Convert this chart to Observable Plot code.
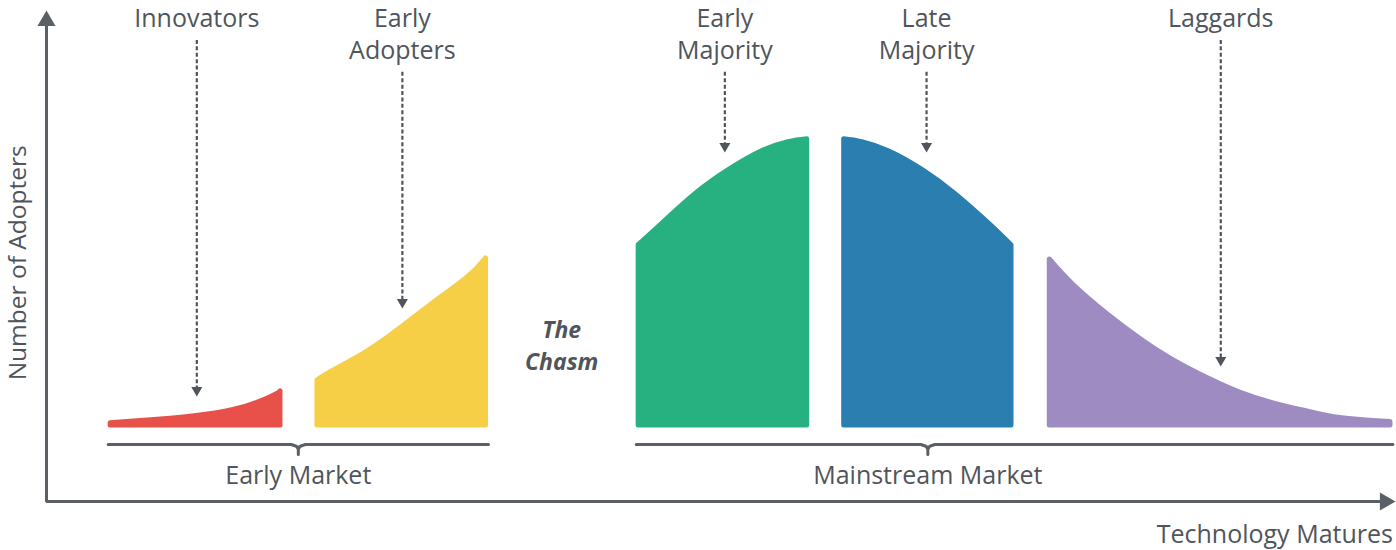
<!DOCTYPE html>
<html><head><meta charset="utf-8">
<script src="https://cdn.jsdelivr.net/npm/d3@7"></script>
<script src="https://cdn.jsdelivr.net/npm/@observablehq/plot@0.6"></script>
<style>
html,body{margin:0;padding:0;background:#fff;}
#chart{width:1396px;height:550px;overflow:hidden;}
svg{overflow:visible;}
</style></head><body><div id="chart"></div>
<script>
// Technology adoption life cycle: stages, colours, labels
const stages = ["Innovators", "Early Adopters", "Early Majority", "Late Majority", "Laggards"];
const stageLabels = ["Innovators", "Early\nAdopters", "Early\nMajority", "Late\nMajority", "Laggards"];
const stageColors = ["#e8504a", "#f7cf46", "#27b080", "#2a7fb0", "#9e8bc2"];

// Outline of each stage's part of the curve: maturity (x) vs number of adopters (y)
const innovatorsX     = [0.0, 2.0, 4.85, 7.2, 9.75, 11.85, 13.2, 13.6];
const innovatorsY     = [1.45, 1.8, 2.35, 3.0, 4.15, 5.85, 7.45, 7.95];
const earlyAdoptersX  = [16.1, 17.5, 20.2, 22.75, 25.3, 28.0, 29.6];
const earlyAdoptersY  = [10.2, 12.1, 16.1, 20.8, 25.9, 31.2, 35.0];
const earlyMajorityX  = [41.1, 43.1, 45.7, 48.3, 50.85, 52.95, 54.6];
const earlyMajorityY  = [37.7, 42.0, 48.1, 53.0, 56.8, 58.7, 59.3];
const lateMajorityX   = [57.1, 58.7, 60.8, 63.4, 65.95, 68.6, 70.5];
const lateMajorityY   = [59.3, 58.7, 56.8, 53.0, 48.1, 42.0, 37.7];
const laggardsX       = [73.1, 75.1, 77.8, 80.4, 82.9, 85.6, 88.1, 90.7, 93.4, 95.9, 98.5, 100.0];
const laggardsY       = [34.8, 29.7, 23.6, 18.5, 14.3, 10.6, 7.7, 5.5, 3.8, 2.5, 1.9, 1.7];

// Label pointers (dashed arrows) for each stage
const pointerX   = [6.9, 22.9, 48.0, 63.7, 86.6];
const pointerTop = [78.9, 72.4, 72.4, 72.4, 78.9];
const pointerTip = [6.4, 24.3, 56.1, 56.1, 12.5];
const labelTop = 86.3;

// Markets (brackets under the curve)
const markets      = ["Early Market", "Mainstream Market"];
const marketStart  = [0.0, 41.1];
const marketEnd    = [29.6, 100.0];
const marketCenter = [14.8, 63.8];
const bracketY = -3.4;
const marketLabelY = -9.9;

// The chasm
const chasmLabel = "The\nChasm";
const chasmX = 35.3, chasmY = 17.1;

// Axes
const xDomain = [-4.8, 100.2];
const yDomain = [-15, 85];
const xTitle = "Technology Matures", xTitleX = 100.0, xTitleY = -21.9;
const yTitle = "Number of Adopters", yTitleX = -7.0, yTitleY = 33.6;

const ink = "#50555c";
const axisInk = "#5b6067";
const textSize = 25;

const xs = [innovatorsX, earlyAdoptersX, earlyMajorityX, lateMajorityX, laggardsX];
const ys = [innovatorsY, earlyAdoptersY, earlyMajorityY, lateMajorityY, laggardsY];

// inset so that a rounded stroke keeps the outline where it was read
const ix = 0.19, iy = 0.5;
const curveMarks = stages.map((s, i) => {
  const n = xs[i].length;
  const pts = xs[i].map((x, j) => ({
    stage: s,
    x: j === 0 ? x + ix : j === n - 1 ? x - ix : x,
    y: ys[i][j] - iy
  }));
  return Plot.areaY(pts, {
    x: "x", y1: iy, y2: "y",
    fill: stageColors[i], stroke: stageColors[i],
    strokeWidth: 5, strokeLinejoin: "round",
    curve: "natural"
  });
});

const pointers = stages.map((s, i) => ({stage: s, label: stageLabels[i], x: pointerX[i], top: pointerTop[i], tip: pointerTip[i]}));

const bracketPts = [];
markets.forEach((m, i) => {
  const c = marketCenter[i];
  [[marketStart[i], bracketY], [c - 0.55, bracketY], [c - 0.15, bracketY - 0.35], [c, bracketY - 0.9],
   [c + 0.15, bracketY - 0.35], [c + 0.55, bracketY], [marketEnd[i], bracketY]]
    .forEach(([x, y]) => bracketPts.push({market: m, x, y}));
});
const marketRows = markets.map((m, i) => ({market: m, x: marketCenter[i], start: marketStart[i], end: marketEnd[i]}));

const axisPts = [
  {x: xDomain[0], y: yDomain[1] - 2.6},
  {x: xDomain[0], y: yDomain[0]},
  {x: xDomain[1] - 1.0, y: yDomain[0]}
];
const arrowHeads = [
  {x: xDomain[0], y: yDomain[1] - 2.1, rotate: 0},
  {x: xDomain[1] - 0.81, y: yDomain[0], rotate: 90}
];

const chart = Plot.plot({
  width: 1396,
  height: 550,
  marginLeft: 46,
  marginRight: 1,
  marginTop: 10,
  marginBottom: 49,
  x: {domain: xDomain, axis: null},
  y: {domain: yDomain, axis: null},
  style: {fontFamily: "'Open Sans', sans-serif", background: "#fff", overflow: "visible"},
  marks: [
    ...curveMarks,
    // dashed pointers
    Plot.ruleX(pointers, {x: "x", y1: "top", y2: d => d.tip + 1.0, stroke: ink, strokeWidth: 2.2, strokeDasharray: "4,2.4"}),
    Plot.dot(pointers, {x: "x", y: "tip", symbol: "triangle", rotate: 180, r: 4.1, fill: ink, stroke: null, dy: -6.3}),
    Plot.text(pointers, {x: "x", y: labelTop, text: "label", lineAnchor: "top", lineHeight: 1.29, fontSize: textSize, fill: ink}),
    // market brackets
    Plot.line(bracketPts, {x: "x", y: "y", z: "market", stroke: axisInk, strokeWidth: 3, strokeLinecap: "round", strokeLinejoin: "round"}),
    Plot.ruleX(marketRows, {x: "x", y1: bracketY - 0.6, y2: bracketY - 2.15, stroke: axisInk, strokeWidth: 3, strokeLinecap: "round"}),
    Plot.text(marketRows, {x: "x", y: marketLabelY, text: "market", fontSize: textSize, fill: ink, lineAnchor: "middle"}),
    // chasm
    Plot.text([chasmLabel], {x: chasmX, y: chasmY, text: d => d, fontSize: 23, fontWeight: "bold", fontStyle: "italic", lineHeight: 1.39, fill: ink, lineAnchor: "middle"}),
    // axes with arrow heads
    Plot.line(axisPts, {x: "x", y: "y", stroke: axisInk, strokeWidth: 3, strokeLinejoin: "miter"}),
    Plot.dot(arrowHeads, {x: "x", y: "y", rotate: "rotate", symbol: "triangle", r: 6.7, fill: axisInk, stroke: null}),
    Plot.text([xTitle], {x: xTitleX, y: xTitleY, text: d => d, textAnchor: "end", fontSize: textSize, fill: ink, lineAnchor: "middle"}),
    Plot.text([yTitle], {x: yTitleX, y: yTitleY, text: d => d, rotate: -90, fontSize: 24.5, fill: ink, lineAnchor: "middle"})
  ]
});
document.getElementById("chart").appendChild(chart);
</script>
</body></html>
